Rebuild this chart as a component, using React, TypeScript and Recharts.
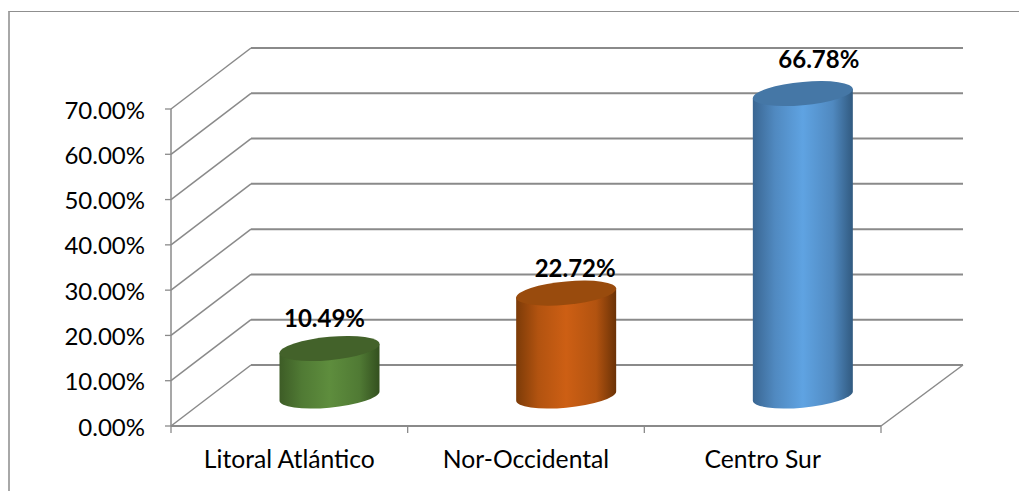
import { BarChart, Bar, XAxis, YAxis, CartesianGrid, LabelList } from "recharts";

const categories = ["Litoral Atlántico", "Nor-Occidental", "Centro Sur"];
const shares = [10.49, 22.72, 66.78];
const yTicks = [0, 10, 20, 30, 40, 50, 60, 70];

const gridColor = "#8a8a8a";
const font = "Lato, 'Open Sans', sans-serif";

const plotLeft = 171;
const plotRight = 881;
const plotBottom = 426;

// how far the back wall sits behind the front plane
const depthX = 80;
const depthY = 61;

const palettes = [
  { id: "green", edgeL: "#3d5c26", soft: "#507a34", mid: "#5e8d3d", edgeR: "#33501f", top: "#43622a" },
  { id: "orange", edgeL: "#7c3b08", soft: "#b25310", mid: "#cd5f14", edgeR: "#6b3206", top: "#994b0d" },
  { id: "blue", edgeL: "#3a6692", soft: "#5089c0", mid: "#5fa3e2", edgeR: "#315a80", top: "#4577a6" },
];

// data labels were dragged by hand in the original
const labelNudge = [
  { dx: -4.5, dy: -31 },
  { dx: 9.5, dy: -26 },
  { dx: 16.5, dy: -35 },
];

function WallLine(props: any) {
  const { x1, y1, x2 } = props;
  const backY = y1 - depthY;
  const isFloor = Math.abs(y1 - plotBottom) < 1;
  return (
    <g fill="none" stroke={gridColor}>
      <path d={`M${x1},${y1} L${x1 + depthX},${backY}`} strokeWidth={1.5} />
      <path d={`M${x1 + depthX},${backY} L${x2 + 82},${backY}`} strokeWidth={2} />
      {isFloor && <path d={`M${x2},${y1} L${x2 + 82},${backY}`} strokeWidth={1.5} />}
    </g>
  );
}

function Cylinder(props: any) {
  const { x, y, width, height, index } = props;
  const cx = x + width / 2 + depthX / 2 + 0.5;
  const topY = y - 30;
  const baseY = y + height - 30;
  const rx = width / 2;
  const ry = 11.7;
  const shear = -0.09;
  const p = palettes[index];
  const tf = `matrix(1,${shear},0,1,0,${-shear * cx})`;
  return (
    <g transform={tf}>
      <path
        d={`M${cx - rx},${topY} L${cx - rx},${baseY} A${rx},${ry} 0 0 0 ${cx + rx},${baseY} L${cx + rx},${topY} Z`}
        fill={`url(#cyl-${p.id})`}
      />
      <ellipse cx={cx} cy={topY} rx={rx} ry={ry} fill={p.top} />
    </g>
  );
}

function ShareLabel(props: any) {
  const { x, y, width, value, index } = props;
  const n = labelNudge[index];
  return (
    <text
      x={x + width / 2 + depthX / 2 + n.dx}
      y={y - 30 + n.dy}
      textAnchor="middle"
      dominantBaseline="central"
      fontFamily={font}
      fontSize={24}
      fontWeight={700}
      fill="#000"
    >
      {value.toFixed(2)}%
    </text>
  );
}

function CategoryTick(props: any) {
  const { x, y, payload, index } = props;
  const band = (plotRight - plotLeft) / categories.length;
  const last = index === categories.length - 1;
  return (
    <g>
      <line x1={x - band / 2} x2={x - band / 2} y1={plotBottom} y2={plotBottom + 7} stroke={gridColor} strokeWidth={1.3} />
      {last && <line x1={x + band / 2} x2={x + band / 2} y1={plotBottom} y2={plotBottom + 7} stroke={gridColor} strokeWidth={1.3} />}
      <text x={x} y={y + 34} textAnchor="middle" fontFamily={font} fontSize={24.7} fill="#000">
        {payload.value}
      </text>
    </g>
  );
}

export default function App() {
  const rows = categories.map((name, i) => ({ name, share: shares[i] }));
  return (
    <div style={{ position: "absolute", left: 0, top: 0, width: 1019, height: 491, background: "#fff", overflow: "hidden" }}>
      {/* outer chart frame, only top and left are inside the crop */}
      <div style={{ position: "absolute", left: 8, top: 11, right: -4, bottom: -4, borderLeft: "2px solid #a8a8a8", borderTop: "1.5px solid #8f8f8f" }} />
      <div style={{ position: "absolute", left: 0, top: 0 }}>
        <BarChart
          width={1019}
          height={491}
          data={rows}
          margin={{ top: 109, right: 138, bottom: 0, left: 0 }}
          barSize={100}
        >
          <defs>
            {palettes.map((p) => (
              <linearGradient key={p.id} id={`cyl-${p.id}`} x1="0" y1="0" x2="1" y2="0">
                <stop offset="0" stopColor={p.edgeL} />
                <stop offset="0.22" stopColor={p.soft} />
                <stop offset="0.5" stopColor={p.mid} />
                <stop offset="0.8" stopColor={p.soft} />
                <stop offset="1" stopColor={p.edgeR} />
              </linearGradient>
            ))}
          </defs>
          <CartesianGrid vertical={false} horizontal={(props: any) => <WallLine key={props.key} {...props} />} />
          <XAxis
            dataKey="name"
            height={65}
            interval={0}
            tickLine={false}
            axisLine={{ stroke: gridColor, strokeWidth: 2 }}
            tick={<CategoryTick />}
          />
          <YAxis
            width={171}
            domain={[0, 70]}
            ticks={yTicks}
            interval={0}
            tickSize={6}
            tickMargin={20}
            axisLine={{ stroke: gridColor, strokeWidth: 1.5 }}
            tickLine={{ stroke: gridColor, strokeWidth: 1.3 }}
            tick={{ fill: "#000", fontFamily: font, fontSize: 24, dy: 1 }}
            tickFormatter={(v: number) => `${v.toFixed(2)}%`}
          />
          <Bar dataKey="share" isAnimationActive={false} shape={<Cylinder />}>
            <LabelList dataKey="share" content={<ShareLabel />} />
          </Bar>
        </BarChart>
      </div>
    </div>
  );
}
